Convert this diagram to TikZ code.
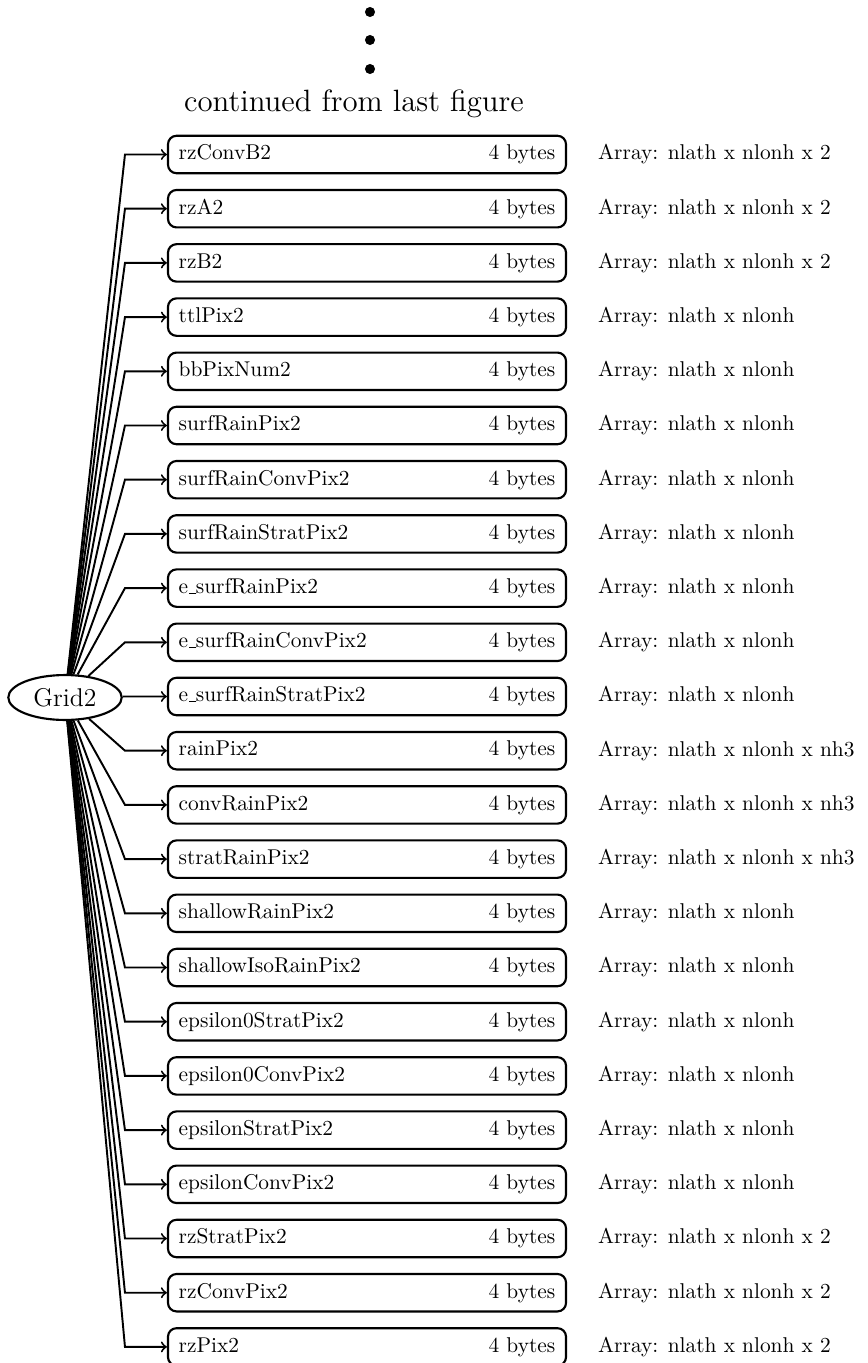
\documentclass[tikz,border=0pt]{standalone}
\usepackage{tikz}
\usetikzlibrary{positioning,shapes.geometric}
\newcommand{\us}{\leavevmode\kern.06em\vbox{\hrule width.3em}}

\begin{document}
\begin{tikzpicture}[x=0.4673pt, y=-0.4673pt,
			grid_style/.style={ellipse, draw, line width=1pt, minimum width=53pt, minimum height=21pt, inner sep=1pt, font=\large},
			box_style/.style={draw, line width=1pt, rounded corners=4pt, minimum height=17.5pt, inner xsep=5pt, text width=176pt},
			arrow_style/.style={line width=0.9pt, ->},
			dot_style/.style={circle, fill=black, inner sep=0pt, minimum size=4.7pt}]
			\useasboundingbox (0,0) rectangle (868,1363);
			% dots and heading
			\foreach \y [count=\k] in {12,40,69} {
				\node[dot_style] (dot\k) at (370,\y) {};
			}
			\node[font=\Large, anchor=base] (title) at (354,111.5) {continued from last figure};
			\node[grid_style] (grid) at (65,697.5) {Grid2};
			% one box per field
			\foreach \nm/\arr [count=\i from 0] in {
				rzConvB2/nlath x nlonh x 2, rzA2/nlath x nlonh x 2, rzB2/nlath x nlonh x 2,
				ttlPix2/nlath x nlonh, bbPixNum2/nlath x nlonh, surfRainPix2/nlath x nlonh,
				surfRainConvPix2/nlath x nlonh, surfRainStratPix2/nlath x nlonh,
				e\us surfRainPix2/nlath x nlonh, e\us surfRainConvPix2/nlath x nlonh,
				e\us surfRainStratPix2/nlath x nlonh,
				rainPix2/nlath x nlonh x nh3, convRainPix2/nlath x nlonh x nh3,
				stratRainPix2/nlath x nlonh x nh3,
				shallowRainPix2/nlath x nlonh, shallowIsoRainPix2/nlath x nlonh,
				epsilon0StratPix2/nlath x nlonh, epsilon0ConvPix2/nlath x nlonh,
				epsilonStratPix2/nlath x nlonh, epsilonConvPix2/nlath x nlonh,
				rzStratPix2/nlath x nlonh x 2, rzConvPix2/nlath x nlonh x 2, rzPix2/nlath x nlonh x 2} {
				\node[box_style] (b\i) at (367,154.5+54.2*\i) {\nm\hfill 4 bytes};
				\node[right=11pt of b\i] (a\i) {Array: \arr};
				\draw[arrow_style] (grid) -- ([xshift=-19.6pt]b\i.west) -- (b\i.west);
			}
		\end{tikzpicture}
\end{document}
